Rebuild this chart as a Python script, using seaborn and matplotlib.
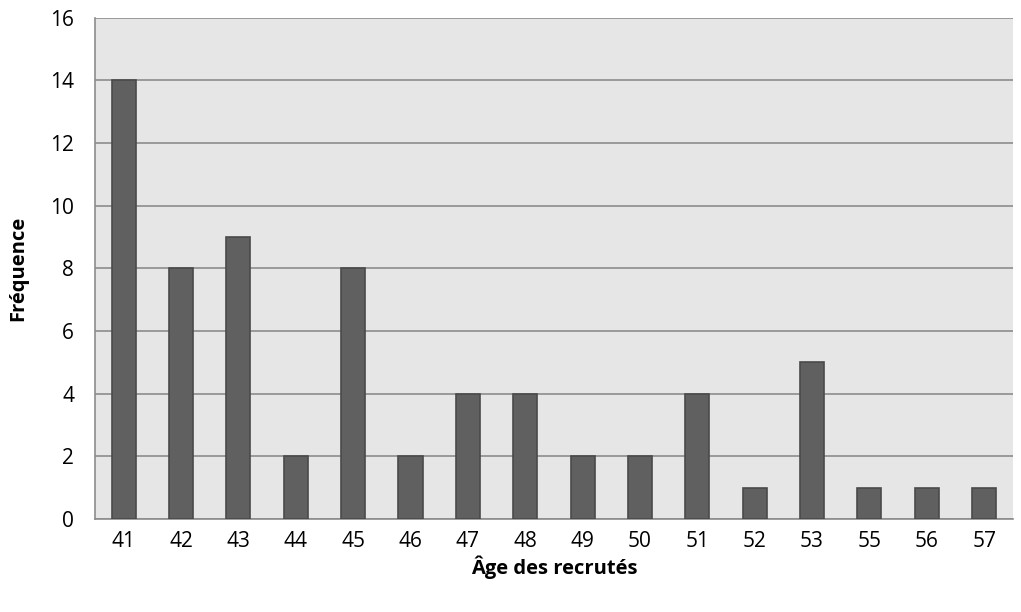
import pandas as pd
import seaborn as sns
import matplotlib.pyplot as plt

# ages of recruits and their frequency
ages = ["41", "42", "43", "44", "45", "46", "47", "48",
        "49", "50", "51", "52", "53", "55", "56", "57"]
counts = [14, 8, 9, 2, 8, 2, 4, 4, 2, 2, 4, 1, 5, 1, 1, 1]

df = pd.DataFrame({"age": ages, "freq": counts})

sns.set_style("white")
plt.rcParams["font.family"] = ["Open Sans", "DejaVu Sans"]
plt.rcParams["text.color"] = "black"
plt.rcParams["xtick.labelcolor"] = "black"
plt.rcParams["ytick.labelcolor"] = "black"
plt.rcParams["axes.labelcolor"] = "black"

fig = plt.figure(figsize=(10.21, 6.12), dpi=100)
ax = fig.add_axes([0.093, 0.152, 0.899, 0.819])

sns.barplot(data=df, x="age", y="freq", order=ages, color="#606060",
            width=0.42, edgecolor="#4a4a4a", linewidth=1.2,
            saturation=1, ax=ax, zorder=3)

ax.set_facecolor("#e6e6e6")
ax.set_ylim(0, 16)
ax.set_yticks(range(0, 17, 2))
ax.set_xlim(-0.5, len(ages) - 0.5)
ax.yaxis.grid(True, color="#8c8c8c", linewidth=1.2, zorder=0)
ax.set_axisbelow(True)

for side in ["top", "right"]:
    ax.spines[side].set_visible(False)
for side in ["left", "bottom"]:
    ax.spines[side].set_color("#8c8c8c")
    ax.spines[side].set_linewidth(1.2)

# x ticks sit between categories, labels at centre
ax.set_xticks([i - 0.5 for i in range(len(ages) + 1)], minor=True)
ax.tick_params(axis="x", which="minor", length=8, width=1.2, color="#8c8c8c")
ax.tick_params(axis="x", which="major", length=0, pad=9, labelsize=15)
ax.tick_params(axis="y", length=8, width=1.2, color="#8c8c8c", pad=7, labelsize=15)

ax.set_xlabel("Âge des recrutés", fontsize=14.5, fontweight="bold")
ax.set_ylabel("Fréquence", fontsize=14.5, fontweight="bold")
ax.xaxis.set_label_coords(0.5, -0.096)
ax.yaxis.set_label_coords(-0.084, 0.5)
ax.xaxis.label.set_va("center")
ax.yaxis.label.set_va("center")

fig.savefig("out.png", dpi=100)
